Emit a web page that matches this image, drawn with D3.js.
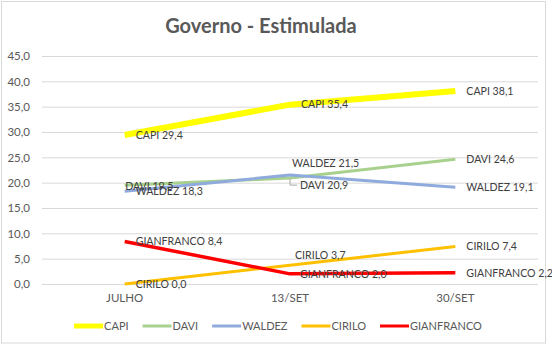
<!DOCTYPE html>
<html>
<head>
<meta charset="utf-8">
<script src="https://cdn.jsdelivr.net/npm/d3@7"></script>
<style>
  html, body { margin: 0; padding: 0; background: #ffffff; }
  svg { display: block; }
  text { font-family: Lato, "Open Sans", "Liberation Sans", sans-serif; }
</style>
</head>
<body>
<svg id="chart" width="552" height="346"></svg>
<script>
// Survey rounds
const categories = ["JULHO", "13/SET", "30/SET"];

// Candidate names and their voting intentions (%)
const seriesNames = ["CAPI", "DAVI", "WALDEZ", "CIRILO", "GIANFRANCO"];
const capi = [29.4, 35.4, 38.1];
const davi = [19.5, 20.9, 24.6];
const waldez = [18.3, 21.5, 19.1];
const cirilo = [0.0, 3.7, 7.4];
const gianfranco = [8.4, 2.0, 2.2];

// Value axis ticks
const yTicks = [0, 5, 10, 15, 20, 25, 30, 35, 40, 45];

const title = "Governo - Estimulada";

const seriesValues = [capi, davi, waldez, cirilo, gianfranco];
const colors = ["#FFFF00", "#A9D18E", "#8FAADC", "#FFC000", "#FF0000"];
const widths = [6, 3, 3, 3, 3.5];

// Label nudges (px) for labels that would otherwise collide
const labelShift = {
  "DAVI-0": [-10.5, 1],
  "DAVI-1": [-1, 7],
  "WALDEZ-1": [-9, -12],
  "CIRILO-1": [-6, -10],
  "GIANFRANCO-1": [-1, 0]
};

const fmt = v => d3.format(".1f")(v).replace(".", ",");

const svg = d3.select("#chart");

// Chart frame
svg.append("rect")
  .attr("x", 1.5).attr("y", 1.5)
  .attr("width", 544).attr("height", 341.5)
  .attr("fill", "#fff").attr("stroke", "#d9d9d9").attr("stroke-width", 1);

// Title
svg.append("text")
  .attr("x", 261).attr("y", 33)
  .attr("text-anchor", "middle")
  .attr("font-size", 20).attr("font-weight", "bold")
  .attr("fill", "#595959")
  .text(title);

const x = d3.scaleBand().domain(categories).range([42, 538]);
const cx = c => x(c) + x.bandwidth() / 2;
const y = d3.scaleLinear().domain([0, 45]).range([284, 56]);

// Horizontal gridlines + value axis labels
const yAxis = d3.axisLeft(y)
  .tickValues(yTicks)
  .tickSize(-(538 - 42))
  .tickPadding(12)
  .tickFormat(fmt);

const gy = svg.append("g").attr("transform", "translate(42,0)").call(yAxis);
gy.select(".domain").remove();
gy.selectAll(".tick line").attr("stroke", "#d9d9d9").attr("stroke-width", 1);
gy.selectAll(".tick text")
  .attr("fill", "#595959").attr("font-size", 11.5)
  .attr("font-family", "Lato, 'Open Sans', sans-serif");

// Category axis labels
const xAxis = d3.axisBottom(x).tickSize(0).tickPadding(10);
const gx = svg.append("g").attr("transform", "translate(0,284)").call(xAxis);
gx.select(".domain").remove();
gx.selectAll(".tick text")
  .attr("fill", "#595959").attr("font-size", 11.5)
  .attr("font-family", "Lato, 'Open Sans', sans-serif");

// Series lines
const line = d3.line()
  .x((d, i) => cx(categories[i]))
  .y(d => y(d));

seriesValues.forEach((vals, s) => {
  svg.append("path")
    .datum(vals)
    .attr("d", line)
    .attr("fill", "none")
    .attr("stroke", colors[s])
    .attr("stroke-width", widths[s])
    .attr("stroke-linejoin", "round");
});

// Leader line for the displaced DAVI label
{
  const px = cx(categories[1]), py = y(davi[1]);
  svg.append("path")
    .attr("d", `M${px},${py + 1}V${py + 7}H${px + 7}`)
    .attr("fill", "none").attr("stroke", "#a6a6a6").attr("stroke-width", 1);
}

// Data labels
seriesValues.forEach((vals, s) => {
  vals.forEach((v, i) => {
    const key = seriesNames[s] + "-" + i;
    const [dx, dy] = labelShift[key] || [0, 0];
    svg.append("text")
      .attr("x", cx(categories[i]) + 11 + dx)
      .attr("y", y(v) + dy)
      .attr("dy", "0.35em")
      .attr("font-size", 10.6)
      .attr("fill", "#404040")
      .text(seriesNames[s] + " " + fmt(v));
  });
});

// Legend
const legend = svg.append("g");
let lx = 0;
seriesNames.forEach((name, s) => {
  const item = legend.append("g").attr("transform", `translate(${lx},0)`);
  item.append("line")
    .attr("x1", 0).attr("x2", 29).attr("y1", 0).attr("y2", 0)
    .attr("stroke", colors[s]).attr("stroke-width", s === 0 ? 5 : 3);
  const t = item.append("text")
    .attr("x", 30).attr("dy", "0.35em")
    .attr("font-size", 11).attr("fill", "#595959")
    .text(name);
  lx += 30 + t.node().getComputedTextLength() + 14;
});
const legendWidth = lx - 14;
legend.attr("transform", `translate(${278 - legendWidth / 2},326)`);
</script>
</body>
</html>
